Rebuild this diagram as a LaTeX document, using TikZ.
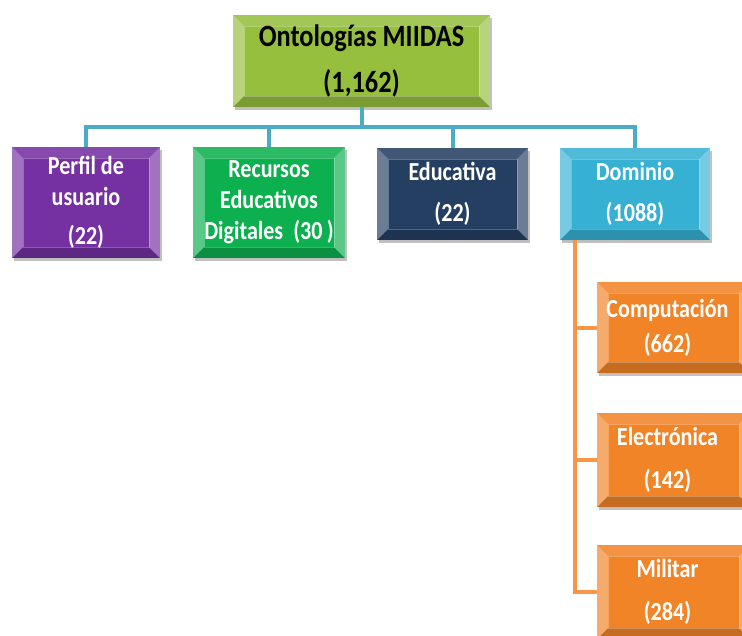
\documentclass[tikz,border=0pt]{standalone}
\usepackage{fontspec}
\setmainfont{Carlito}[FakeStretch=0.85]
\usetikzlibrary{shadows}
\definecolor{rootc}{HTML}{96BF3E}
\definecolor{perfc}{HTML}{7530A2}
\definecolor{recc}{HTML}{0DB04F}
\definecolor{educ}{HTML}{253F62}
\definecolor{domc}{HTML}{36B1D3}
\definecolor{orac}{HTML}{F28428}
\definecolor{bluel}{HTML}{4BACC6}
\definecolor{orl}{HTML}{F79646}
\tikzset{
  bevel/.style={path picture={
    \path (path picture bounding box.north west) coordinate (bnw)
          (path picture bounding box.south east) coordinate (bse)
          (path picture bounding box.north east) coordinate (bne)
          (path picture bounding box.south west) coordinate (bsw);
    \fill[white,opacity=.13] (bnw) -- (bne) -- ([shift={(-#1,-#1)}]bne) -- ([shift={(#1,-#1)}]bnw) -- cycle;
    \fill[black,opacity=.18] (bsw) -- (bse) -- ([shift={(-#1,#1)}]bse) -- ([shift={(#1,#1)}]bsw) -- cycle;
    \fill[white,opacity=.32] (bnw) -- (bsw) -- ([shift={(#1,#1)}]bsw) -- ([shift={(#1,-#1)}]bnw) -- cycle;
    \fill[white,opacity=.32] (bne) -- (bse) -- ([shift={(-#1,#1)}]bse) -- ([shift={(-#1,-#1)}]bne) -- cycle;
    \draw[white,opacity=.25,line width=.6pt] ([shift={(#1,#1)}]bsw) rectangle ([shift={(-#1,-#1)}]bne);
  }},
  bevel/.default=11pt,
  box/.style={rectangle, bevel, inner sep=0pt, align=center, text=white,
    font=\bfseries\fontsize{26}{31}\selectfont,
    drop shadow={shadow xshift=2pt,shadow yshift=-3pt,opacity=.35,fill=black!70}},
  conn/.style={line width=4pt, color=bluel},
  oconn/.style={line width=4pt, color=orl}
}
\begin{document}
\begin{tikzpicture}[x=1pt,y=-1pt]
\useasboundingbox (0,0) rectangle (742,635);
\clip (0,0) rectangle (742,635);

\node[box, fill=rootc, text=black, minimum width=257pt, minimum height=92pt,
  font=\bfseries\fontsize{31}{46}\selectfont] (root) at (361.5,61) {Ontologías MIIDAS\\(1,162)};

\node[box, fill=perfc, minimum width=148pt, minimum height=111pt] (perfil) at (86,202.5) {Perfil de\\usuario\\[8pt](22)};
\node[box, fill=recc, minimum width=152pt, minimum height=111pt] (recursos) at (269,202.5) {Recursos\\Educativos\\Digitales\ \ (30\,)};
\node[box, fill=educ, minimum width=151pt, minimum height=92pt] (educ) at (452.5,194) {Educativa\\[10pt](22)};
\node[box, fill=domc, minimum width=150pt, minimum height=92pt] (dom) at (635,194) {Dominio\\[10pt](1088)};

\node[box, fill=orac, minimum width=153pt, minimum height=91pt] (comp) at (673.5,327.5) {\hspace*{-12pt}Computación\\[4pt]\hspace*{-12pt}(662)};
\node[box, fill=orac, minimum width=153pt, minimum height=94pt] (elec) at (673.5,460) {\hspace*{-12pt}Electrónica\\[12pt]\hspace*{-12pt}(142)};
\node[box, fill=orac, minimum width=153pt, minimum height=94pt] (mil) at (673.5,592) {\hspace*{-12pt}Militar\\[12pt]\hspace*{-12pt}(284)};

\coordinate (bus) at (361.5,127);
\begin{scope}[on background layer/.style={}]
\end{scope}
\draw[conn] (root.south) -- (bus);
\draw[conn] (bus) -| (perfil.north);
\draw[conn] (bus) -| (recursos.north);
\draw[conn] (bus) -| (educ.north);
\draw[conn] (bus) -| (dom.north);
\draw[conn, line cap=rect] (perfil.north |- bus) -- (dom.north |- bus);

\coordinate (otop) at (575,240);
\draw[oconn] (otop) -- (otop |- mil.west) -- (mil.west);
\draw[oconn] (otop |- comp.west) -- (comp.west);
\draw[oconn] (otop |- elec.west) -- (elec.west);
\end{tikzpicture}
\end{document}
